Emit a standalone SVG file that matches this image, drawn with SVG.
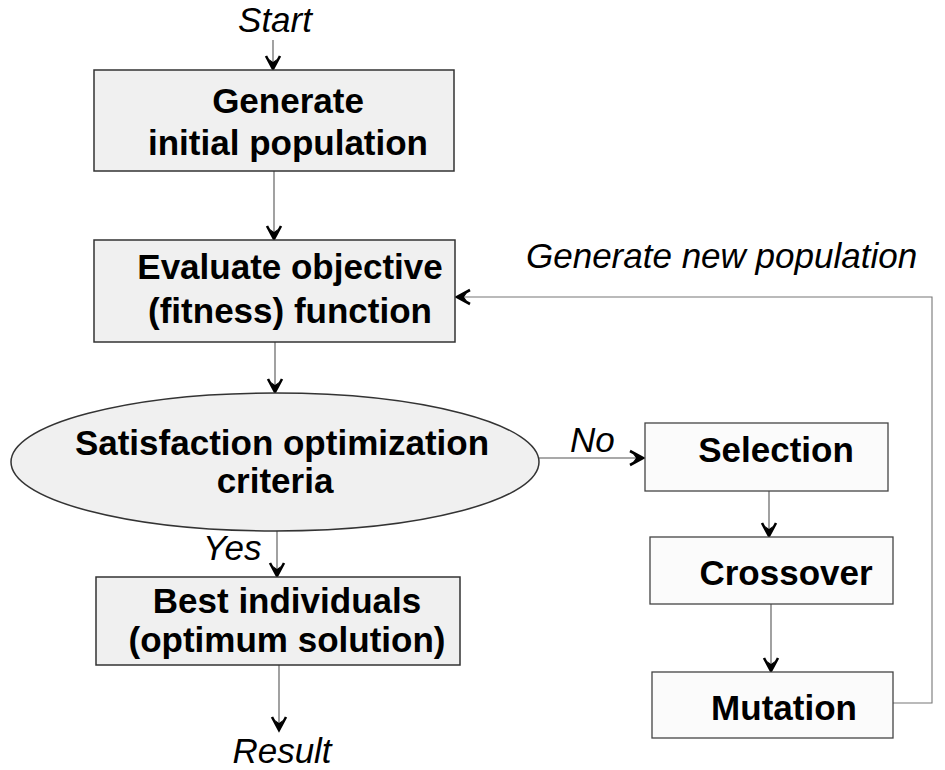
<svg xmlns="http://www.w3.org/2000/svg" width="945" height="770" viewBox="0 0 945 770">
<defs>
<style>
.box{fill:#f0f0f0;stroke:#333;stroke-width:1.5}
.box2{fill:#fbfbfb;stroke:#444;stroke-width:1.3}
.t{font-family:"Liberation Sans",Arial,sans-serif;font-weight:bold;font-size:35px;fill:#000;text-anchor:middle}
.lb{font-family:"Liberation Sans",Arial,sans-serif;font-style:italic;font-size:35px;fill:#000}
.c{fill:none;stroke:#555;stroke-width:1.1}
.fb{fill:none;stroke:#777;stroke-width:1.1}
</style>
<marker id="ah" viewBox="-16 -9 19 18" refX="0" refY="0" markerWidth="19" markerHeight="18" markerUnits="userSpaceOnUse" orient="auto">
<path d="M-13,-7 L0,0 L-13,7" fill="none" stroke="#000" stroke-width="2.6" stroke-linejoin="miter"/>
<path d="M0,0 L-10,-4 L-7,0 L-10,4 Z" fill="#000"/>
</marker>
</defs>
<g id="connectors">
<line class="c" x1="273" y1="40" x2="273" y2="69" marker-end="url(#ah)"/>
<line class="c" x1="274" y1="171" x2="274" y2="239" marker-end="url(#ah)"/>
<line class="c" x1="275" y1="342" x2="275" y2="392" marker-end="url(#ah)"/>
<line class="c" x1="539" y1="458" x2="643" y2="458" marker-end="url(#ah)"/>
<line class="c" x1="277" y1="531" x2="277" y2="576" marker-end="url(#ah)"/>
<line class="c" x1="279" y1="665" x2="279" y2="730" marker-end="url(#ah)"/>
<line class="c" x1="769" y1="491" x2="769" y2="536" marker-end="url(#ah)"/>
<line class="c" x1="771" y1="604" x2="771" y2="671" marker-end="url(#ah)"/>
<polyline class="fb" points="893,703 932,703 932,297 457,297" marker-end="url(#ah)"/>
<text class="lb" x="203" y="560">Yes</text>
<text class="lb" x="570" y="452">No</text>
<text class="lb" x="526" y="268" font-size="37">Generate new population</text>
</g>
<g id="start"><text class="lb" x="275" y="32" text-anchor="middle">Start</text></g>
<g id="generate">
<rect class="box" x="94" y="70" width="360" height="101"/>
<text class="t" x="288" y="113">Generate</text>
<text class="t" x="288" y="155">initial population</text>
</g>
<g id="evaluate">
<rect class="box" x="94" y="240" width="361" height="102"/>
<text class="t" x="290" y="279">Evaluate objective</text>
<text class="t" x="290" y="323">(fitness) function</text>
</g>
<g id="criteria">
<ellipse class="box" cx="275" cy="462" rx="264" ry="69"/>
<text class="t" x="282" y="455">Satisfaction optimization</text>
<text class="t" x="275" y="493">criteria</text>
</g>
<g id="best">
<rect class="box" x="96" y="577" width="364" height="88"/>
<text class="t" x="287" y="613">Best individuals</text>
<text class="t" x="287" y="652">(optimum solution)</text>
</g>
<g id="result"><text class="lb" x="282" y="763" text-anchor="middle">Result</text></g>
<g id="selection">
<rect class="box2" x="645" y="423" width="243" height="68"/>
<text class="t" x="776" y="462">Selection</text>
</g>
<g id="crossover">
<rect class="box2" x="650" y="537" width="243" height="67"/>
<text class="t" x="786" y="585">Crossover</text>
</g>
<g id="mutation">
<rect class="box2" x="652" y="672" width="241" height="66"/>
<text class="t" x="784" y="720">Mutation</text>
</g>
</svg>
